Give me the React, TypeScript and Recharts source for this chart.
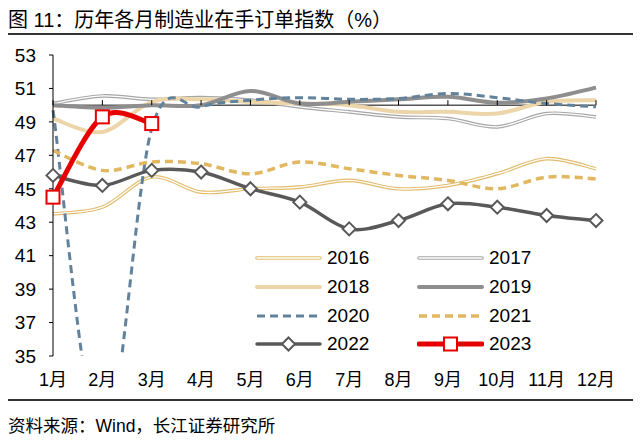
import React from "react";
import { LineChart, Line, XAxis, YAxis, ReferenceLine, ReferenceDot } from "recharts";

const months = ["1月", "2月", "3月", "4月", "5月", "6月", "7月", "8月", "9月", "10月", "11月", "12月"];
const yTicks = [35, 37, 39, 41, 43, 45, 47, 49, 51, 53];

const y2016 = [43.5, 43.9, 45.7, 44.8, 45.0, 45.1, 45.5, 45.0, 45.2, 45.9, 46.8, 46.2];
const y2017 = [50.1, 50.55, 50.35, 50.45, 50.3, 49.9, 49.6, 49.3, 49.2, 48.7, 49.5, 49.3];
const y2018 = [49.2, 48.4, 50.2, 50.35, 50.2, 50.1, 50.0, 49.6, 49.6, 49.5, 50.2, 50.3];
const y2019 = [50.0, 49.85, 50.0, 50.0, 50.85, 50.1, 50.2, 50.35, 50.5, 50.15, 50.4, 51.05];
const y2020 = [49.7, 29.5, 48.6, 49.9, 50.3, 50.45, 50.35, 50.4, 50.7, 50.45, 50.1, 49.9];
const y2021 = [47.3, 46.1, 46.6, 46.5, 45.9, 46.6, 46.2, 45.8, 45.5, 45.0, 45.7, 45.6];
const y2022 = [45.8, 45.2, 46.1, 46.0, 45.0, 44.2, 42.6, 43.1, 44.1, 43.9, 43.4, 43.1];
const y2023 = [44.5, 49.3, 48.9];

const data = months.map((m, i) => ({
  month: m,
  y2016: y2016[i],
  y2017: y2017[i],
  y2018: y2018[i],
  y2019: y2019[i],
  y2020: y2020[i],
  y2021: y2021[i],
  y2022: y2022[i],
  y2023: i < y2023.length ? y2023[i] : null,
}));

type Series = {
  key: string;
  name: string;
  color: string;
  width: number;
  dash?: string;
  double?: boolean;
  marker?: "diamond" | "square";
};

const series: Series[] = [
  { key: "y2016", name: "2016", color: "#E2BC6C", width: 3.6, double: true },
  { key: "y2017", name: "2017", color: "#A6A6A6", width: 3.6, double: true },
  { key: "y2018", name: "2018", color: "#ECD5A8", width: 4 },
  { key: "y2019", name: "2019", color: "#8E8E8E", width: 4 },
  { key: "y2020", name: "2020", color: "#62819B", width: 3, dash: "8 5" },
  { key: "y2021", name: "2021", color: "#E1B860", width: 3.5, dash: "8 5" },
  { key: "y2022", name: "2022", color: "#595959", width: 3.5, marker: "diamond" },
  { key: "y2023", name: "2023", color: "#E60000", width: 5, marker: "square" },
];

const FONT = "'Liberation Sans', Arial, 'Noto Sans CJK SC', sans-serif";

// Excel-like smoothed line (Catmull-Rom through the points)
function smoothCurve(context: any) {
  let pts: number[][] = [];
  return {
    areaStart() {},
    areaEnd() {},
    lineStart() {
      pts = [];
    },
    point(x: number, y: number) {
      pts.push([+x, +y]);
    },
    lineEnd() {
      const n = pts.length;
      if (!n) return;
      context.moveTo(pts[0][0], pts[0][1]);
      for (let i = 0; i < n - 1; i++) {
        const p0 = pts[i - 1] || pts[i];
        const p1 = pts[i];
        const p2 = pts[i + 1];
        const p3 = pts[i + 2] || p2;
        context.bezierCurveTo(
          p1[0] + (p2[0] - p0[0]) / 6,
          p1[1] + (p2[1] - p0[1]) / 6,
          p2[0] - (p3[0] - p1[0]) / 6,
          p2[1] - (p3[1] - p1[1]) / 6,
          p2[0],
          p2[1]
        );
      }
    },
  };
}

function Marker({ kind, cx, cy, color }: { kind: string; cx: number; cy: number; color: string }) {
  if (kind === "diamond") {
    const r = 6.5;
    return (
      <polygon
        points={`${cx},${cy - r} ${cx + r},${cy} ${cx},${cy + r} ${cx - r},${cy}`}
        fill="#fff"
        stroke={color}
        strokeWidth={2}
      />
    );
  }
  const h = 6.5;
  return <rect x={cx - h} y={cy - h} width={h * 2} height={h * 2} fill="#fff" stroke={color} strokeWidth={2} />;
}

function makeDot(s: Series) {
  return (p: any) => {
    if (p.cy == null || p.value == null) return <g key={p.index} />;
    return (
      <g key={p.index}>
        <Marker kind={s.marker!} cx={p.cx} cy={p.cy} color={s.color} />
      </g>
    );
  };
}

function LegendSample({ s }: { s: Series }) {
  return (
    <svg width={67} height={16} style={{ display: "block" }}>
      <line x1={2} x2={65} y1={8} y2={8} stroke={s.color} strokeWidth={s.width} strokeDasharray={s.dash} strokeLinecap={s.dash ? "butt" : "round"} />
      {s.double && <line x1={2} x2={65} y1={8} y2={8} stroke="#fff" strokeWidth={1.3} strokeLinecap="round" />}
      {s.marker && <Marker kind={s.marker} cx={33.5} cy={8} color={s.color} />}
    </svg>
  );
}

export default function App() {
  return (
    <div
      style={{
        position: "absolute",
        left: 0,
        top: 0,
        width: 640,
        height: 442,
        background: "#fff",
        fontFamily: FONT,
        color: "#000",
        overflow: "hidden",
      }}
    >
      <div style={{ position: "absolute", left: 8, top: 4, fontSize: 20, whiteSpace: "nowrap" }}>
        图 11：历年各月制造业在手订单指数（%）
      </div>
      <div style={{ position: "absolute", left: 8, top: 33, width: 625, height: 1.5, background: "#333" }} />

      <div style={{ position: "absolute", left: 0, top: 0 }}>
        <LineChart width={640} height={400} data={data} margin={{ top: 55, right: 44, left: 8, bottom: 14 }}>
          <XAxis
            dataKey="month"
            axisLine={false}
            tickLine={false}
            tickSize={0}
            tickMargin={17}
            height={30}
            interval={0}
            tick={{ fill: "#000", fontSize: 18, fontFamily: FONT }}
          />
          <YAxis
            domain={[35, 53]}
            ticks={yTicks}
            allowDataOverflow
            width={45}
            axisLine={{ stroke: "#000", strokeWidth: 1 }}
            tickLine={{ stroke: "#000", strokeWidth: 1 }}
            tickSize={4}
            tickMargin={13}
            tick={{ fill: "#000", fontSize: 19, fontFamily: FONT }}
          />
          <ReferenceLine y={50} stroke="#000" strokeWidth={1} />
          {months.map((m) => (
            <ReferenceDot
              key={"t" + m}
              x={m}
              y={50}
              r={0}
              shape={(p: any) => <line x1={p.cx} x2={p.cx} y1={p.cy - 5} y2={p.cy} stroke="#000" strokeWidth={1} />}
            />
          ))}
          {series.flatMap((s) => {
            const lines = [
              <Line
                key={s.key}
                dataKey={s.key}
                type={smoothCurve as any}
                stroke={s.color}
                strokeWidth={s.width}
                strokeDasharray={s.dash}
                dot={s.marker ? makeDot(s) : false}
                activeDot={false}
                isAnimationActive={false}
              />,
            ];
            if (s.double) {
              lines.push(
                <Line
                  key={s.key + "-inner"}
                  dataKey={s.key}
                  type={smoothCurve as any}
                  stroke="#fff"
                  strokeWidth={1.3}
                  dot={false}
                  activeDot={false}
                  isAnimationActive={false}
                />
              );
            }
            return lines;
          })}
        </LineChart>
      </div>

      <div
        style={{
          position: "absolute",
          left: 255,
          top: 244,
          display: "grid",
          gridTemplateColumns: "162px 162px",
          gridAutoRows: "28.7px",
        }}
      >
        {series.map((s) => (
          <div key={"lg" + s.key} style={{ display: "flex", alignItems: "center", fontSize: 19 }}>
            <LegendSample s={s} />
            <span style={{ marginLeft: 5 }}>{s.name}</span>
          </div>
        ))}
      </div>

      <div style={{ position: "absolute", left: 8, top: 399, width: 625, height: 1.5, background: "#333" }} />
      <div style={{ position: "absolute", left: 8, top: 412, fontSize: 17.5, whiteSpace: "nowrap" }}>
        资料来源：Wind，长江证券研究所
      </div>
    </div>
  );
}
